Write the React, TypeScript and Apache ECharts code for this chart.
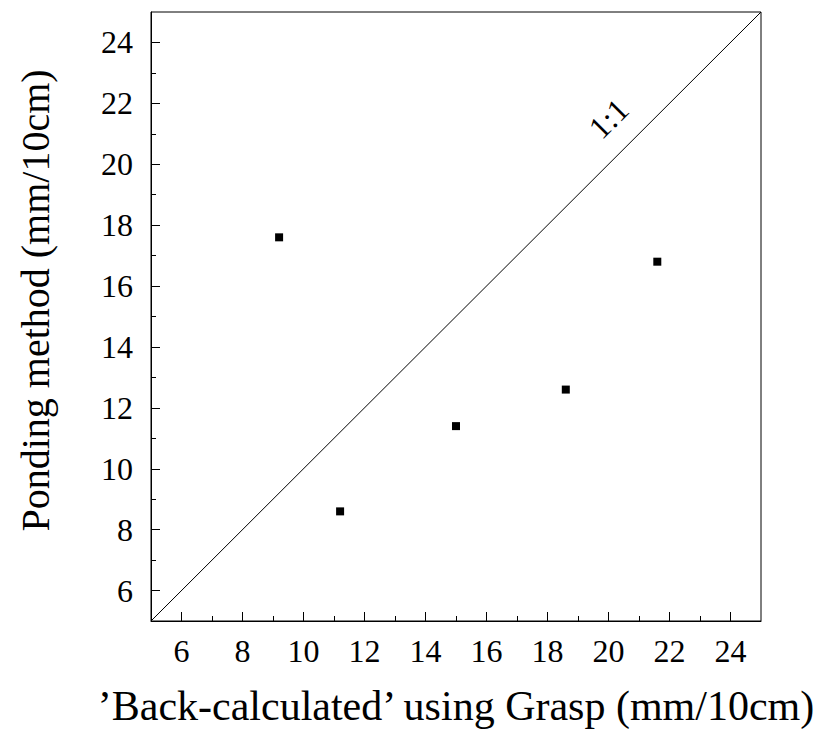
import React, { useEffect, useRef } from "react";
import * as echarts from "echarts";

const xTitle = "\u2019Back-calculated\u2019 using Grasp (mm/10cm)";
const yTitle = "Ponding method (mm/10cm)";
const axisMin = 5;
const axisMax = 25;
const majorTicks = [6, 8, 10, 12, 14, 16, 18, 20, 22, 24];
const minorTicks = [7, 9, 11, 13, 15, 17, 19, 21, 23];
const graspValues = [9.2, 11.2, 15.0, 18.6, 21.6];
const pondingValues = [17.6, 8.6, 11.4, 12.6, 16.8];
const oneToOneLine = [
  [5, 5],
  [25, 25],
];
const oneToOneLabel = "1:1";
const oneToOneLabelAt = [20.0, 21.5];

const FONT = "Liberation Serif";

export default function App() {
  const ref = useRef<HTMLDivElement>(null);
  useEffect(() => {
    if (!ref.current) return;
    const chart = echarts.init(ref.current, null, { renderer: "svg" });
    const points = graspValues.map((x, i) => [x, pondingValues[i]]);
    const mkAxis = (isX: boolean) => [
      {
        type: "value",
        min: axisMin,
        max: axisMax,
        position: isX ? "bottom" : "left",
        name: isX ? xTitle : yTitle,
        nameLocation: "middle",
        nameGap: isX ? 64 : 96,
        nameRotate: isX ? 0 : 90,
        nameTextStyle: isX
          ? { fontFamily: FONT, fontSize: 42, color: "#000" }
          : { fontFamily: FONT, fontSize: 40, color: "#000", padding: [0, 0, 0, 32] },
        axisLine: { show: true, lineStyle: { color: "#000", width: 1 } },
        axisTick: {
          show: true,
          inside: true,
          length: 9,
          customValues: majorTicks,
          lineStyle: { color: "#000", width: 1 },
        },
        axisLabel: {
          show: true,
          customValues: majorTicks,
          margin: isX ? 14 : 18,
          fontFamily: FONT,
          fontSize: 32,
          color: "#000",
        },
        splitLine: { show: false },
      },
      {
        type: "value",
        min: axisMin,
        max: axisMax,
        position: isX ? "bottom" : "left",
        axisLine: { show: false },
        axisTick: {
          show: true,
          inside: true,
          length: 5,
          customValues: minorTicks,
          lineStyle: { color: "#000", width: 1 },
        },
        axisLabel: { show: false },
        splitLine: { show: false },
      },
    ];
    chart.setOption({
      animation: false,
      backgroundColor: "#fff",
      grid: {
        left: 151,
        right: 60,
        top: 12,
        bottom: 112,
        show: true,
        borderColor: "#000",
        borderWidth: 1,
      },
      xAxis: mkAxis(true),
      yAxis: mkAxis(false),
      series: [
        {
          type: "line",
          data: oneToOneLine,
          symbol: "none",
          lineStyle: { color: "#000", width: 1 },
          silent: true,
        },
        {
          type: "scatter",
          data: points,
          symbol: "rect",
          symbolSize: 8,
          itemStyle: { color: "#000", opacity: 1 },
        },
        {
          type: "scatter",
          data: [oneToOneLabelAt],
          symbolSize: 0,
          itemStyle: { opacity: 1 },
          label: {
            show: true,
            position: "inside",
            formatter: oneToOneLabel,
            rotate: 45,
            fontFamily: FONT,
            fontSize: 32,
            color: "#000",
          },
        },
      ],
    });
    return () => chart.dispose();
  }, []);
  return (
    <div
      ref={ref}
      style={{ position: "fixed", left: 0, top: 0, width: 821, height: 733, background: "#fff" }}
    />
  );
}
